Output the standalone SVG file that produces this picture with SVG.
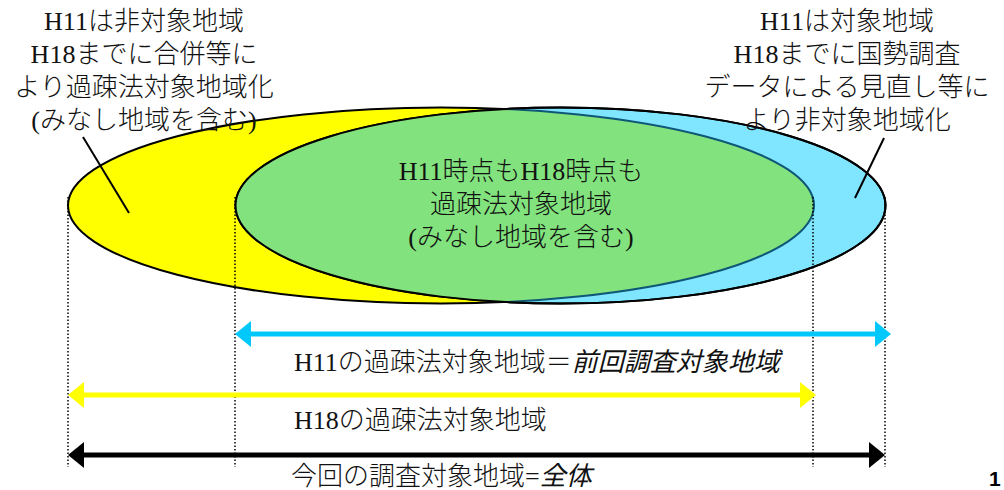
<svg xmlns="http://www.w3.org/2000/svg" width="1004" height="490" viewBox="0 0 1004 490">
<style>
.t{font-family:"Liberation Serif","Noto Sans CJK JP",serif;font-size:26px;font-weight:300;fill:#111}
.c{text-anchor:middle}
.it{font-family:"Liberation Sans","Noto Sans CJK JP",sans-serif;font-style:italic;font-weight:400}
.dot{stroke:#000;stroke-width:1.5;stroke-dasharray:1.5 2;fill:none}
.ptr{stroke:#000;stroke-width:2;fill:none}
.arr{stroke-width:5;fill:none}
</style>
<defs>
<clipPath id="clipCyan"><ellipse cx="560.5" cy="205.5" rx="325" ry="98"/></clipPath>
<marker id="mC" viewBox="0 0 16 26" markerUnits="userSpaceOnUse" markerWidth="16" markerHeight="26" refX="6" refY="13" orient="auto-start-reverse"><path d="M0,0 L16,13 L0,26 z" fill="#00C8FA"/></marker>
<marker id="mY" viewBox="0 0 16 26" markerUnits="userSpaceOnUse" markerWidth="16" markerHeight="26" refX="6" refY="13" orient="auto-start-reverse"><path d="M0,0 L16,13 L0,26 z" fill="#FFFF00"/></marker>
<marker id="mK" viewBox="0 0 16 26" markerUnits="userSpaceOnUse" markerWidth="16" markerHeight="26" refX="6" refY="13" orient="auto-start-reverse"><path d="M0,0 L16,13 L0,26 z" fill="#000"/></marker>
</defs>

<g id="region-h18">
<ellipse cx="441" cy="205.5" rx="373" ry="98" fill="#FFFF00" stroke="#000" stroke-width="2"/>
</g>
<g id="region-h11">
<ellipse cx="560.5" cy="205.5" rx="325" ry="98" fill="#80E5FF" stroke="#000" stroke-width="2"/>
</g>
<g id="region-both">
<ellipse cx="441" cy="205.5" rx="373" ry="98" fill="#82E27D" stroke="#0F5776" stroke-width="2" clip-path="url(#clipCyan)"/>
<ellipse cx="560.5" cy="205.5" rx="325" ry="98" fill="none" stroke="#000" stroke-width="2"/>
<text class="t c" x="521" y="180">H11時点もH18時点も</text>
<text class="t c" x="521" y="213">過疎法対象地域</text>
<text class="t c" x="521" y="246">(みなし地域を含む)</text>
</g>

<g id="label-left">
<text class="t c" x="144" y="30">H11は非対象地域</text>
<text class="t c" x="144" y="63">H18までに合併等に</text>
<text class="t c" x="144" y="96">より過疎法対象地域化</text>
<text class="t c" x="144" y="129">(みなし地域を含む)</text>
</g>
<g id="label-right">
<text class="t c" x="847" y="30">H11は対象地域</text>
<text class="t c" x="847" y="63">H18までに国勢調査</text>
<text class="t c" x="847" y="96">データによる見直し等に</text>
<text class="t c" x="847" y="129">より非対象地域化</text>
</g>

<g id="connectors">
<line class="ptr" x1="83" y1="137" x2="129" y2="213"/>
<line class="ptr" x1="884" y1="138" x2="855" y2="198"/>
<line class="dot" x1="68" y1="197" x2="68" y2="467"/>
<line class="dot" x1="235" y1="197" x2="235" y2="467"/>
<line class="dot" x1="813" y1="197" x2="813" y2="467"/>
<line class="dot" x1="885" y1="197" x2="885" y2="467"/>
<line class="arr" x1="245" y1="334" x2="881" y2="334" stroke="#00C8FA" marker-start="url(#mC)" marker-end="url(#mC)"/>
<line class="arr" x1="78" y1="395" x2="806" y2="395" stroke="#FFFF00" marker-start="url(#mY)" marker-end="url(#mY)"/>
<line class="arr" x1="78" y1="455" x2="875" y2="455" stroke="#000" marker-start="url(#mK)" marker-end="url(#mK)"/>
</g>

<g id="range-labels">
<text class="t" x="294" y="371">H11の過疎法対象地域＝<tspan class="it">前回調査対象地域</tspan></text>
<text class="t" x="294" y="429">H18の過疎法対象地域</text>
<text class="t" x="291" y="485">今回の調査対象地域=<tspan class="it">全体</tspan></text>
</g>

<g id="page-number">
<text x="989" y="486" font-family="Liberation Sans, sans-serif" font-weight="700" font-size="21" fill="#000">1</text>
</g>
</svg>
